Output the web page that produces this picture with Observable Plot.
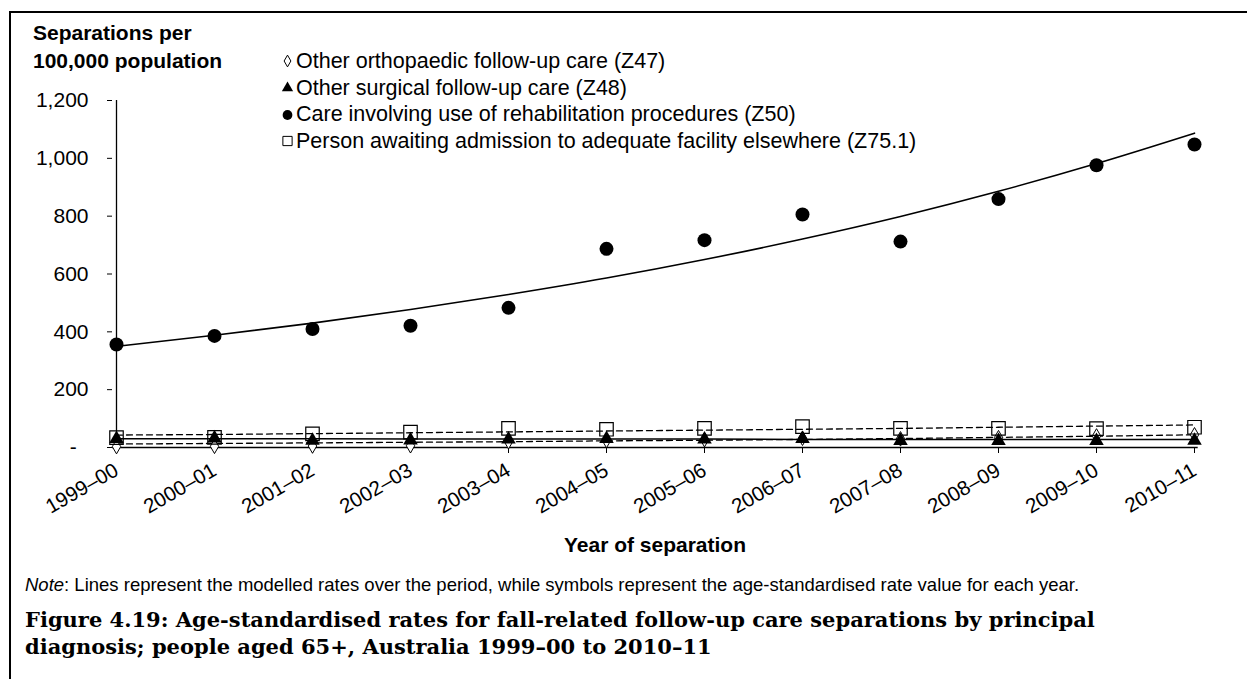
<!DOCTYPE html>
<html><head><meta charset="utf-8">
<script src="https://cdn.jsdelivr.net/npm/d3@7"></script>
<script src="https://cdn.jsdelivr.net/npm/@observablehq/plot@0.6"></script>
<style>
html,body{margin:0;padding:0;background:#fff;overflow:hidden;width:1247px;height:679px;}
body{position:relative;font-family:"Liberation Sans",Arial,sans-serif;color:#000;}
#frame{position:absolute;left:9px;top:11px;width:1300px;height:800px;border:2px solid #000;box-sizing:border-box;}
#chart{position:absolute;left:0;top:0;}
.abs{position:absolute;white-space:nowrap;}
#ytitle{left:33px;top:19px;font-weight:bold;font-size:21px;line-height:28px;}
#legend{left:282px;top:48px;font-size:21.5px;line-height:26.7px;}
#legend .item{display:flex;align-items:center;height:26.7px;}
#legend svg{margin-right:3px;overflow:visible;}
#xtitle{left:455px;width:400px;text-align:center;top:533px;font-weight:bold;font-size:21px;line-height:24px;}
#note{left:25px;top:574px;font-size:18.5px;line-height:22px;}
#caption{left:25px;top:606px;font-family:"DejaVu Serif",serif;font-weight:bold;font-size:21px;line-height:27px;}
</style></head><body>
<div id="frame"></div>
<div id="chart"></div>
<div id="ytitle" class="abs">Separations per<br>100,000 population</div>
<div id="legend" class="abs"></div>
<div id="xtitle" class="abs">Year of separation</div>
<div id="note" class="abs"><i>Note</i>: Lines represent the modelled rates over the period, while symbols represent the age-standardised rate value for each year.</div>
<div id="caption" class="abs">Figure 4.19: Age-standardised rates for fall-related follow-up care separations by principal<br>diagnosis; people aged 65+, Australia 1999–00 to 2010–11</div>
<script>
const years = ["1999–00","2000–01","2001–02","2002–03","2003–04","2004–05","2005–06","2006–07","2007–08","2008–09","2009–10","2010–11"];
const yTicks = [0, 200, 400, 600, 800, 1000, 1200];
const seriesNames = [
  "Other orthopaedic follow-up care (Z47)",
  "Other surgical follow-up care (Z48)",
  "Care involving use of rehabilitation procedures (Z50)",
  "Person awaiting admission to adequate facility elsewhere (Z75.1)"
];
// age-standardised rates (symbols)
const z47 = [3, 4, 5, 6, 20, 24, 27, 32, 30, 34, 40, 44];
const z48 = [30, 32, 24, 25, 28, 30, 28, 30, 23, 23, 23, 24];
const z50 = [356, 386, 410, 421, 483, 687, 717, 806, 712, 859, 976, 1048];
const z75 = [34, 35, 47, 53, 66, 63, 66, 72, 66, 66, 65, 70];
// modelled rates (lines)
const z47Model = [12, 14, 16, 18, 20, 23, 25, 28, 31, 35, 39, 44];
const z48Model = [30, 30, 30, 29, 29, 29, 29, 28, 28, 28, 28, 28];
const z50Model = [350, 388, 430, 477, 529, 586, 650, 721, 799, 886, 982, 1087];
const z75Model = [43, 45, 48, 51, 54, 57, 60, 63, 66, 70, 74, 78];

const rows = vals => years.map((year, i) => ({year, value: vals[i]}));

const chart = Plot.plot({
  width: 1247,
  height: 560,
  marginLeft: 112,
  marginRight: 49.3,
  marginTop: 100,
  marginBottom: 113,
  style: {fontFamily: "'Liberation Sans', Arial, sans-serif", background: "transparent", color: "#000"},
  x: {type: "point", domain: years, padding: 0},
  y: {domain: [0, 1200]},
  marks: [
    Plot.ruleX([years[0]], {stroke: "#000", strokeWidth: 1.3}),
    Plot.ruleY([0], {stroke: "#000", strokeWidth: 1.3}),
    Plot.axisY({ticks: yTicks, tickSize: 5, tickPadding: 19, fontSize: 21, label: null,
      tickFormat: d => d === 0 ? "-\u2007" : d3.format(",")(d)}),
    Plot.axisX({tickSize: 6, tickRotate: -30, tickPadding: 15, fontSize: 20.5, label: null}),
    Plot.line(rows(z47Model), {x: "year", y: "value", stroke: "#000", strokeWidth: 1.3, strokeDasharray: "6,4"}),
    Plot.line(rows(z48Model), {x: "year", y: "value", stroke: "#000", strokeWidth: 1.5}),
    Plot.line(rows(z50Model), {x: "year", y: "value", stroke: "#000", strokeWidth: 1.6, curve: "monotone-x"}),
    Plot.line(rows(z75Model), {x: "year", y: "value", stroke: "#000", strokeWidth: 1.3, strokeDasharray: "6,4"}),
    Plot.dot(rows(z47), {x: "year", y: "value", symbol: "diamond", r: 4.4, fill: "#fff", stroke: "#000", strokeWidth: 1}),
    Plot.dot(rows(z48), {x: "year", y: "value", symbol: "triangle", r: 5.4, fill: "#000", stroke: "none"}),
    Plot.dot(rows(z50), {x: "year", y: "value", symbol: "circle", r: 7, fill: "#000", stroke: "none"}),
    Plot.dot(rows(z75), {x: "year", y: "value", symbol: "square", r: 7.6, fill: "none", stroke: "#000", strokeWidth: 1.2})
  ]
});
document.getElementById("chart").appendChild(chart);

// legend
const legendSymbols = [
  {type: d3.symbolDiamond, size: 40, fill: "#fff", stroke: "#000"},
  {type: d3.symbolTriangle, size: 55, fill: "#000", stroke: "none"},
  {type: d3.symbolCircle, size: 75, fill: "#000", stroke: "none"},
  {type: d3.symbolSquare, size: 85, fill: "none", stroke: "#000"}
];
const legend = d3.select("#legend");
seriesNames.forEach((name, i) => {
  const s = legendSymbols[i];
  const item = legend.append("div").attr("class", "item");
  const svg = item.append("svg").attr("width", 11).attr("height", 12).attr("viewBox", "-5.5 -6 11 12");
  svg.append("path").attr("d", d3.symbol(s.type, s.size)()).attr("fill", s.fill).attr("stroke", s.stroke).attr("stroke-width", 1);
  item.append("span").text(name);
});
</script>
</body></html>
